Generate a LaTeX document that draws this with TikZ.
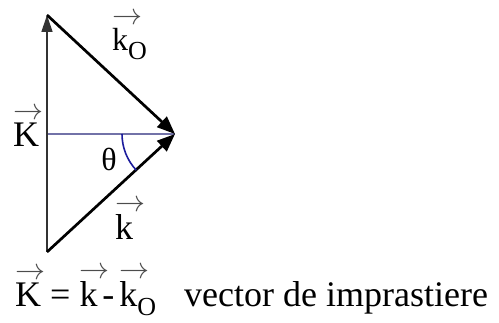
\documentclass[tikz,border=0pt]{standalone}
\usepackage{fontspec}
\setmainfont{Liberation Serif}
\usetikzlibrary{arrows.meta}
\definecolor{axisblue}{HTML}{7272A8}
\definecolor{arcblue}{HTML}{1C1C9C}

% letter with a small arrow set above it
\newcommand{\arrowglyph}{\textcolor{black!70}{\scalebox{3}{\normalsize$\rightarrow$}}}
\newcommand{\vecover}[1]{\setbox0=\hbox{#1}%
  \hbox{\raisebox{\dimexpr\ht0+4pt\relax}{\rlap{\arrowglyph}}\copy0}}
\newcommand{\subO}{\raisebox{-9pt}{\fontsize{26}{26}\selectfont O}}

\begin{document}
\begin{tikzpicture}[x=1pt,y=-1pt,
    thinvec/.style={draw=black!80, line width=1.3pt, -{Triangle[length=17pt,width=11pt]}},
    thickvec/.style={draw=black, line width=2.7pt, -{Triangle[length=18pt,width=14pt]}},
    lbl/.style={inner sep=0pt, anchor=base west, font=\fontsize{36}{38}\selectfont}]
  \useasboundingbox (0,0) rectangle (499,323);
  \coordinate (bot) at (47,252);
  \coordinate (top) at (47,15);
  \coordinate (tip) at (175,134);
  \coordinate (mid) at (47,134);
  \draw[axisblue, line width=1.6pt] (mid) -- (tip);
  \draw[thinvec] (bot) -- (top);
  \draw[thickvec] (top) -- (tip);
  \draw[thickvec] (bot) -- (tip);
  \draw[arcblue, line width=1.6pt] (tip) ++(180:53)
    arc[start angle=180, end angle=137, radius=53];
  \node[lbl] (Klbl) at (13,147) {\vecover{K}};
  \node[lbl, font=\fontsize{32}{34}\selectfont] (kolbl) at (112,51) {\vecover{k}\subO};
  \node[lbl, font=\fontsize{32}{34}\selectfont, anchor=base] (theta) at (109,171) {θ};
  \node[lbl] (klbl) at (115,240) {\vecover{k}};
  \node[lbl] (eq) at (15,307)
    {\vecover{K} = \vecover{k}\kern5pt-\kern5pt\vecover{k}\subO};
  \node[lbl] (desc) at (184,307) {vector de imprastiere};
\end{tikzpicture}
\end{document}
